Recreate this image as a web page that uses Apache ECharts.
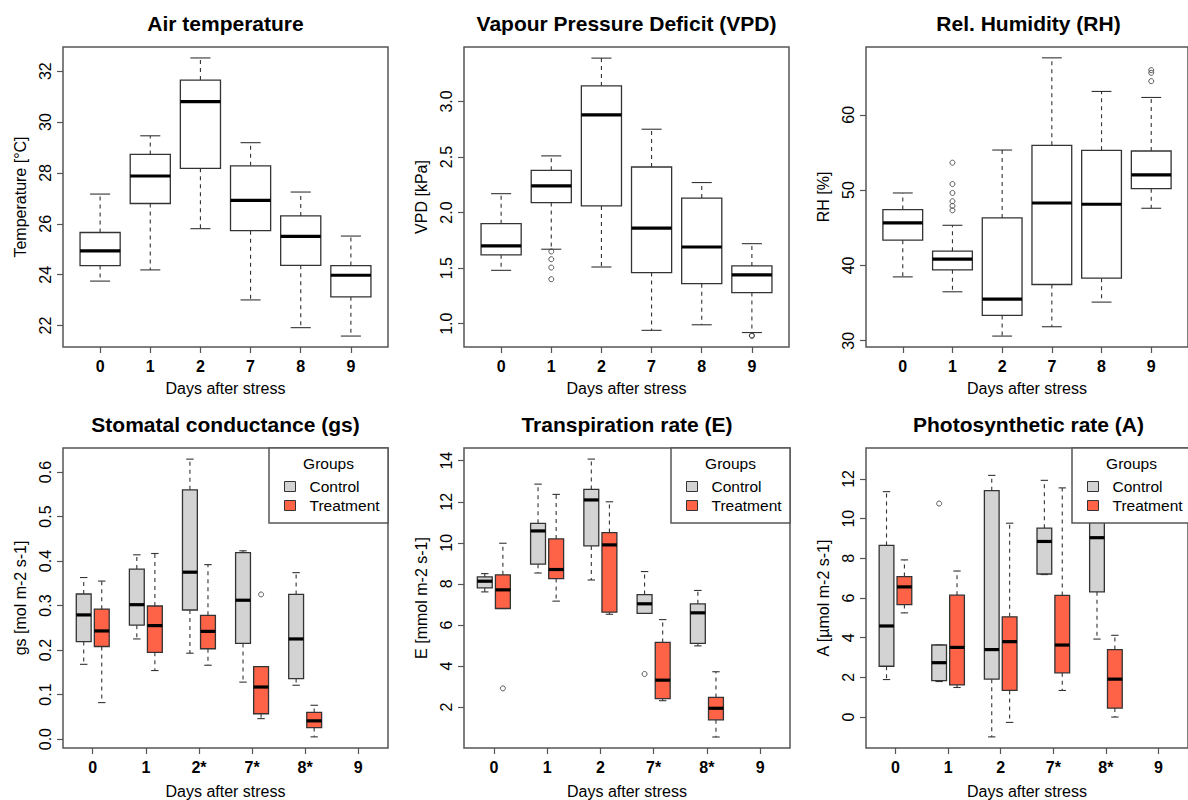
<!DOCTYPE html>
<html><head><meta charset="utf-8">
<script src="https://cdn.jsdelivr.net/npm/echarts@6/dist/echarts.min.js"></script>
<style>html,body{margin:0;padding:0;background:#fff}#c{width:1188px;height:800px}</style>
</head><body><div id="c"></div><script>
const FONT = '"Liberation Sans", Arial, Helvetica, sans-serif';

// ---------- categories ----------
const daysTop = ['0', '1', '2', '7', '8', '9'];
const daysGs  = ['0', '1', '2*', '7*', '8*', '9'];
const daysE   = ['0', '1', '2', '7*', '8*', '9'];
const daysA   = ['0', '1', '2', '7*', '8*', '9'];

// ---------- box statistics: [lower whisker, Q1, median, Q3, upper whisker] ----------
const airTemp = [
  [23.75, 24.36, 24.94, 25.66, 27.17],
  [24.19, 26.80, 27.88, 28.73, 29.46],
  [25.81, 28.18, 30.80, 31.65, 32.52],
  [23.01, 25.73, 26.92, 28.28, 29.19],
  [21.92, 24.37, 25.51, 26.31, 27.25],
  [21.59, 23.13, 23.98, 24.36, 25.52]
];
const vpd = [
  [1.48, 1.62, 1.70, 1.90, 2.17],
  [1.67, 2.09, 2.24, 2.38, 2.51],
  [1.51, 2.06, 2.88, 3.14, 3.39],
  [0.94, 1.46, 1.86, 2.41, 2.75],
  [0.99, 1.36, 1.69, 2.13, 2.27],
  [0.92, 1.28, 1.44, 1.52, 1.72]
];
const rh = [
  [38.48, 43.35, 45.64, 47.41, 49.62],
  [36.50, 39.41, 40.83, 41.89, 45.33],
  [30.62, 33.36, 35.52, 46.31, 55.32],
  [31.86, 37.47, 48.29, 55.94, 67.56],
  [35.13, 38.31, 48.12, 55.28, 63.10],
  [47.59, 50.19, 52.01, 55.19, 62.30]
];
const gsControl = [
  [0.168, 0.219, 0.279, 0.326, 0.363],
  [0.225, 0.256, 0.302, 0.382, 0.414],
  [0.193, 0.290, 0.375, 0.560, 0.629],
  [0.128, 0.215, 0.312, 0.419, 0.423],
  [0.121, 0.136, 0.225, 0.325, 0.374],
  null
];
const gsTreatment = [
  [0.082, 0.208, 0.243, 0.292, 0.355],
  [0.154, 0.195, 0.255, 0.299, 0.417],
  [0.166, 0.203, 0.242, 0.278, 0.392],
  [0.046, 0.057, 0.117, 0.163, 0.163],
  [0.005, 0.026, 0.041, 0.060, 0.076],
  null
];
const eControl = [
  [7.61, 7.81, 8.13, 8.34, 8.50],
  [8.53, 8.96, 10.58, 10.95, 12.86],
  [8.19, 9.85, 12.09, 12.60, 14.08],
  [6.56, 6.56, 7.03, 7.48, 8.60],
  [4.98, 5.10, 6.59, 7.03, 7.68],
  null
];
const eTreatment = [
  [6.80, 6.80, 7.71, 8.44, 9.98],
  [7.16, 8.26, 8.70, 10.19, 12.36],
  [6.52, 6.62, 9.90, 10.50, 12.00],
  [2.31, 2.41, 3.31, 5.15, 6.26],
  [0.54, 1.38, 1.94, 2.47, 3.72],
  null
];
const aControl = [
  [1.89, 2.56, 4.59, 8.65, 11.36],
  [1.79, 1.84, 2.74, 3.63, 3.63],
  [-1.00, 1.91, 3.40, 11.41, 12.18],
  [7.18, 7.21, 8.85, 9.52, 11.93],
  [3.93, 6.31, 9.04, 10.60, 13.00],
  null
];
const aTreatment = [
  [5.25, 5.67, 6.56, 7.08, 7.92],
  [1.49, 1.62, 3.51, 6.14, 7.36],
  [-0.27, 1.34, 3.80, 5.05, 9.77],
  [1.34, 2.23, 3.63, 6.13, 11.55],
  [0.00, 0.45, 1.91, 3.40, 4.12],
  null
];

// ---------- outliers: [category index, value] ----------
const vpdOut = [[1, 1.65], [1, 1.58], [1, 1.505], [1, 1.40], [5, 0.895], [5, 0.89]];
const rhOut = [[1, 53.64], [1, 50.81], [1, 49.62], [1, 48.52], [1, 47.90], [1, 47.32], [5, 65.93], [5, 65.57], [5, 64.47]];
const gsTreatmentOut = [[3, 0.325]];
const eControlOut = [[3, 3.61]];
const eTreatmentOut = [[0, 2.91]];
const aControlOut = [[1, 10.76]];

// ---------- y tick labels ----------
const ticksAir = [22, 24, 26, 28, 30, 32];
const ticksVpd = [1.0, 1.5, 2.0, 2.5, 3.0];
const ticksRh  = [30, 40, 50, 60];
const ticksGs  = [0.0, 0.1, 0.2, 0.3, 0.4, 0.5, 0.6];
const ticksE   = [2, 4, 6, 8, 10, 12, 14];
const ticksA   = [0, 2, 4, 6, 8, 10, 12];

// ---------- layout / styling ----------
const GREY = '#D3D3D3', TOMATO = '#FF6347', LINE = '#333', FRAME = '#555';
const grids = [
  { left: 63,  top: 47,  width: 325, height: 300 },
  { left: 464, top: 47,  width: 325, height: 300 },
  { left: 866, top: 47,  width: 325, height: 300 },
  { left: 63,  top: 448, width: 325, height: 301 },
  { left: 464, top: 448, width: 326, height: 301 },
  { left: 866, top: 448, width: 325, height: 301 }
];
const panels = [
  { title: 'Air temperature', yName: 'Temperature [°C]', yMin: 21.16, yMax: 32.95, ticks: ticksAir, dec: 0, cats: daysTop, x: [0.26, 6.74] },
  { title: 'Vapour Pressure Deficit (VPD)', yName: 'VPD [kPa]', yMin: 0.79, yMax: 3.49, ticks: ticksVpd, dec: 1, cats: daysTop, x: [0.26, 6.74] },
  { title: 'Rel. Humidity (RH)', yName: 'RH [%]', yMin: 29.17, yMax: 69.0, ticks: ticksRh, dec: 0, cats: daysTop, x: [0.26, 6.74] },
  { title: 'Stomatal conductance (gs)', yName: 'gs [mol m-2 s-1]', yMin: -0.02, yMax: 0.654, ticks: ticksGs, dec: 1, cats: daysGs, x: [0.44, 6.56] },
  { title: 'Transpiration rate (E)', yName: 'E [mmol m-2 s-1]', yMin: 0.005, yMax: 14.62, ticks: ticksE, dec: 0, cats: daysE, x: [0.44, 6.56] },
  { title: 'Photosynthetic rate (A)', yName: 'A [µmol m-2 s-1]', yMin: -1.56, yMax: 13.56, ticks: ticksA, dec: 0, cats: daysA, x: [0.44, 6.56] }
];

function makeBoxRender(boxWidth) {
  return function (params, api) {
    const x = api.value(0);
    const yLow = api.coord([x, api.value(1)])[1];
    const yQ1 = api.coord([x, api.value(2)])[1];
    const yMed = api.coord([x, api.value(3)])[1];
    const yQ3 = api.coord([x, api.value(4)])[1];
    const yHigh = api.coord([x, api.value(5)])[1];
    const cx = api.coord([x, api.value(3)])[0];
    const w = api.size([boxWidth, 0])[0];
    const sw = w / 2;
    const fill = api.visual('color');
    const dash = { stroke: LINE, lineWidth: 1.1, lineDash: [4, 4] };
    const solid = { stroke: LINE, lineWidth: 1.1 };
    const children = [];
    if (Math.abs(yHigh - yQ3) > 0.5) children.push({ type: 'line', shape: { x1: cx, y1: yQ3, x2: cx, y2: yHigh }, style: dash });
    if (Math.abs(yLow - yQ1) > 0.5) children.push({ type: 'line', shape: { x1: cx, y1: yQ1, x2: cx, y2: yLow }, style: dash });
    children.push({ type: 'line', shape: { x1: cx - sw / 2, y1: yHigh, x2: cx + sw / 2, y2: yHigh }, style: solid });
    children.push({ type: 'line', shape: { x1: cx - sw / 2, y1: yLow, x2: cx + sw / 2, y2: yLow }, style: solid });
    children.push({ type: 'rect', shape: { x: cx - w / 2, y: yQ3, width: w, height: yQ1 - yQ3 }, style: { fill: fill, stroke: LINE, lineWidth: 1.3 } });
    children.push({ type: 'line', shape: { x1: cx - w / 2, y1: yMed, x2: cx + w / 2, y2: yMed }, style: { stroke: '#000', lineWidth: 3.2 } });
    return { type: 'group', children: children };
  };
}

function boxData(stats, offset) {
  const out = [];
  stats.forEach(function (s, i) { if (s) out.push([i + 1 + offset].concat(s)); });
  return out;
}
function outData(list, offset) {
  return list.map(function (p) { return [p[0] + 1 + offset, p[1]]; });
}

const option = {
  animation: false,
  backgroundColor: '#fff',
  textStyle: { fontFamily: FONT },
  title: [],
  grid: [],
  xAxis: [],
  yAxis: [],
  series: [],
  legend: [],
  graphic: []
};

panels.forEach(function (p, i) {
  const g = grids[i];
  const top = i < 3;
  option.grid.push(Object.assign({ show: true, borderColor: FRAME, borderWidth: 1.5, backgroundColor: 'transparent', containLabel: false }, g));
  option.title.push({
    text: p.title, left: g.left + g.width / 2, top: top ? 23 : 424, textAlign: 'center', textVerticalAlign: 'middle', padding: 0,
    textStyle: { fontFamily: FONT, fontSize: 21, fontWeight: 'bold', color: '#000' }
  });
  const xs = [1, 2, 3, 4, 5, 6];
  option.xAxis.push({
    gridIndex: i, type: 'value', min: p.x[0], max: p.x[1],
    axisLine: { show: false, onZero: false },
    splitLine: { show: false },
    axisTick: { show: true, customValues: xs, length: 6, lineStyle: { color: FRAME, width: 1.2 } },
    axisLabel: { customValues: xs, margin: 11, fontFamily: FONT, fontSize: 16, fontWeight: 'bold', color: '#000',
      formatter: function (v) { return p.cats[Math.round(v) - 1]; } },
    name: 'Days after stress', nameLocation: 'middle', nameGap: top ? 33 : 35,
    nameTextStyle: { fontFamily: FONT, fontSize: 16, color: '#000' }
  });
  option.yAxis.push({
    gridIndex: i, type: 'value', min: p.yMin, max: p.yMax,
    axisLine: { show: false, onZero: false },
    splitLine: { show: false },
    axisTick: { show: true, customValues: p.ticks, length: 6, lineStyle: { color: FRAME, width: 1.2 } },
    axisLabel: { customValues: p.ticks, rotate: 90, margin: 10, fontFamily: FONT, fontSize: 16, color: '#000',
      formatter: function (v) { return Number(v).toFixed(p.dec); } },
    name: p.yName, nameLocation: 'middle', nameGap: 35, nameRotate: 90,
    nameTextStyle: { fontFamily: FONT, fontSize: 16, color: '#000' }
  });
});

function boxSeries(name, idx, stats, offset, width, color) {
  return {
    type: 'custom', name: name, xAxisIndex: idx, yAxisIndex: idx, silent: true,
    itemStyle: { color: color, borderColor: LINE, borderWidth: 1 },
    encode: { x: 0, y: [1, 2, 3, 4, 5] },
    renderItem: makeBoxRender(width),
    data: boxData(stats, offset), z: 2
  };
}
function outSeries(idx, list, offset) {
  return {
    type: 'scatter', name: 'outliers', xAxisIndex: idx, yAxisIndex: idx, silent: true,
    symbol: 'circle', symbolSize: 5,
    itemStyle: { color: 'rgba(255,255,255,0)', borderColor: LINE, borderWidth: 1 },
    data: outData(list, offset), z: 3
  };
}

// top row (single group)
option.series.push(boxSeries('Air', 0, airTemp, 0, 0.8, '#fff'));
option.series.push(boxSeries('VPD', 1, vpd, 0, 0.8, '#fff'));
option.series.push(outSeries(1, vpdOut, 0));
option.series.push(boxSeries('RH', 2, rh, 0, 0.8, '#fff'));
option.series.push(outSeries(2, rhOut, 0));

// bottom row (two groups)
const OFF = 0.17, BW = 0.28;
option.series.push(boxSeries('Control', 3, gsControl, -OFF, BW, GREY));
option.series.push(boxSeries('Treatment', 3, gsTreatment, OFF, BW, TOMATO));
option.series.push(outSeries(3, gsTreatmentOut, OFF));
option.series.push(boxSeries('Control', 4, eControl, -OFF, BW, GREY));
option.series.push(boxSeries('Treatment', 4, eTreatment, OFF, BW, TOMATO));
option.series.push(outSeries(4, eControlOut, -OFF));
option.series.push(outSeries(4, eTreatmentOut, OFF));
option.series.push(boxSeries('Control', 5, aControl, -OFF, BW, GREY));
option.series.push(boxSeries('Treatment', 5, aTreatment, OFF, BW, TOMATO));
option.series.push(outSeries(5, aControlOut, -OFF));

// legends for bottom row
[3, 4, 5].forEach(function (i) {
  const g = grids[i];
  const boxL = g.left + g.width - 119;
  option.graphic.push({
    type: 'rect', z: 15, silent: true,
    shape: { x: boxL, y: g.top, width: 119, height: 75 },
    style: { fill: '#fff', stroke: FRAME, lineWidth: 1.5 }
  });
  option.title.push({
    text: 'Groups', left: boxL + 59.5, top: g.top + 15, textAlign: 'center', textVerticalAlign: 'middle', padding: 0, z: 20,
    textStyle: { fontFamily: FONT, fontSize: 15.5, fontWeight: 'normal', color: '#000' }
  });
  option.legend.push({
    orient: 'vertical', left: boxL + 15, top: g.top + 29, padding: 0, z: 20,
    itemWidth: 11, itemHeight: 10, itemGap: 0, selectedMode: false,
    textStyle: { fontFamily: FONT, fontSize: 15.5, color: '#000', lineHeight: 19, padding: [0, 0, 0, 9] },
    data: [
      { name: 'Control', icon: 'rect', itemStyle: { color: GREY, borderColor: LINE, borderWidth: 1 } },
      { name: 'Treatment', icon: 'rect', itemStyle: { color: TOMATO, borderColor: LINE, borderWidth: 1 } }
    ]
  });
});

const chart = echarts.init(document.getElementById('c'), null, { renderer: 'svg', width: 1188, height: 800 });
chart.setOption(option);
</script></body></html>
